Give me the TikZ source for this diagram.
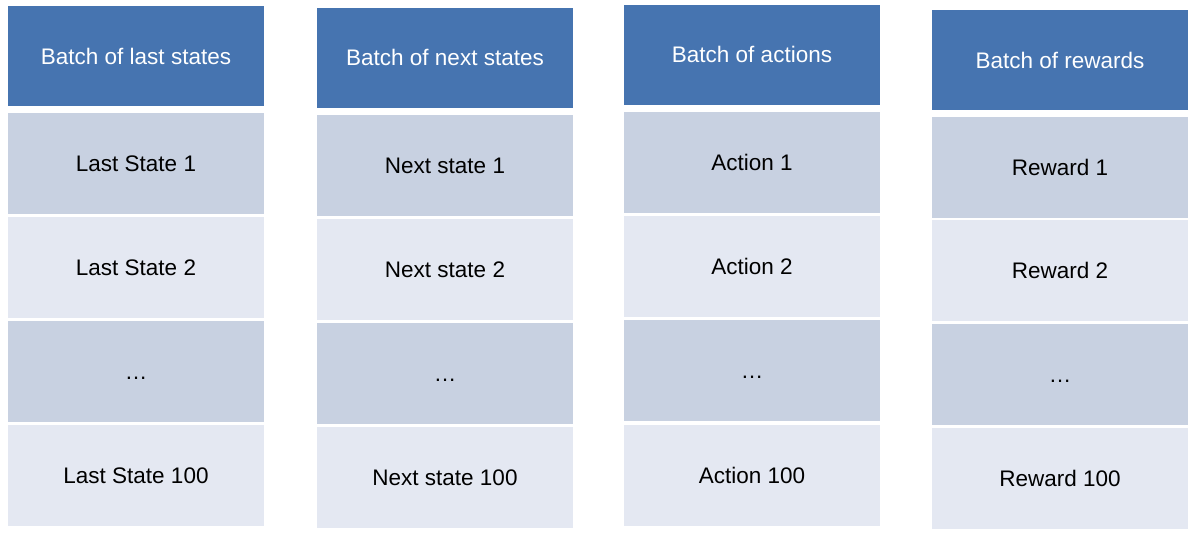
\documentclass[tikz,border=0pt]{standalone}
\usepackage{fontspec}
\setmainfont{Liberation Sans}
\definecolor{headblue}{HTML}{4674B0}
\definecolor{rowdark}{HTML}{C8D1E1}
\definecolor{rowlight}{HTML}{E4E8F2}
\begin{document}
\begin{tikzpicture}[x=1pt, y=-1pt,
  cell/.style={anchor=north west, inner sep=0pt, outer sep=0pt, minimum width=256pt, minimum height=101pt, text height=16pt, text depth=0pt, font=\fontsize{22.5}{27}\selectfont},
  head/.style={cell, minimum height=100pt, fill=headblue, text=white},
  dark/.style={cell, fill=rowdark},
  light/.style={cell, fill=rowlight}]
\useasboundingbox (0,0) rectangle (1191,535);
\node[head] (last0) at (8,6){Batch of last states};
\node[dark] (last1) at (8,113){Last State 1};
\node[light] (last2) at (8,217){Last State 2};
\node[dark] (last3) at (8,321){…};
\node[light] (last4) at (8,425){Last State 100};
\node[head] (next0) at (317,8){Batch of next states};
\node[dark] (next1) at (317,115){Next state 1};
\node[light] (next2) at (317,219){Next state 2};
\node[dark] (next3) at (317,323){…};
\node[light] (next4) at (317,427){Next state 100};
\node[head] (act0) at (624,5){Batch of actions};
\node[dark] (act1) at (624,112){Action 1};
\node[light] (act2) at (624,216){Action 2};
\node[dark] (act3) at (624,320){…};
\node[light] (act4) at (624,425){Action 100};
\node[head] (rew0) at (932,10){Batch of rewards};
\node[dark] (rew1) at (932,117){Reward 1};
\node[light] (rew2) at (932,220){Reward 2};
\node[dark] (rew3) at (932,324){…};
\node[light] (rew4) at (932,428){Reward 100};
\end{tikzpicture}
\end{document}
